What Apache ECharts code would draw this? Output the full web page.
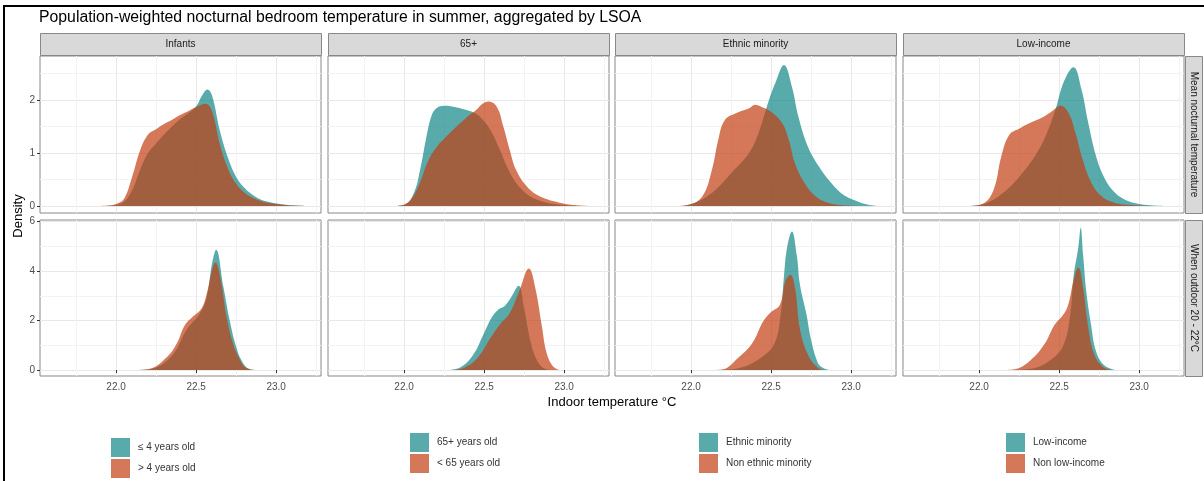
<!DOCTYPE html>
<html>
<head>
<meta charset="utf-8">
<script src="https://cdn.jsdelivr.net/npm/echarts@6/dist/echarts.min.js"></script>
<style>
  html, body { margin: 0; padding: 0; background: #fff; }
  #chart { width: 1204px; height: 481px; }
</style>
</head>
<body>
<div id="chart"></div>
<script>
// facets and labels
const facets = ["Infants", "65+", "Ethnic minority", "Low-income"];
const rowLabels = ["Mean nocturnal temperature", "When outdoor 20 - 22°C"];
const groupNames = [
  ["≤ 4 years old", "> 4 years old"],
  ["65+ years old", "< 65 years old"],
  ["Ethnic minority", "Non ethnic minority"],
  ["Low-income", "Non low-income"]
];
const xTicks = [22.0, 22.5, 23.0];
const xMinor = [21.75, 22.25, 22.75, 23.25];
const yTicksMean = [0, 1, 2];
const yMinorMean = [0.5, 1.5, 2.5];
const yTicksOutdoor = [0, 2, 4, 6];
const yMinorOutdoor = [1, 3, 5];

// density curves: [temperature, density]
const infantsMean_le4 = [[21.90,0],[22.00,0.02],[22.05,0.08],[22.10,0.3],[22.15,0.68],[22.20,1.0],[22.25,1.18],[22.30,1.35],[22.35,1.5],[22.40,1.64],[22.45,1.75],[22.50,1.88],[22.54,2.1],[22.57,2.2],[22.60,2.08],[22.65,1.4],[22.70,0.9],[22.75,0.55],[22.80,0.35],[22.85,0.22],[22.90,0.13],[22.95,0.08],[23.00,0.05],[23.05,0.03],[23.10,0.015],[23.20,0]];
const infantsMean_gt4 = [[21.85,0],[21.95,0.01],[22.00,0.04],[22.05,0.14],[22.10,0.55],[22.15,1.05],[22.20,1.35],[22.25,1.45],[22.30,1.55],[22.35,1.63],[22.40,1.72],[22.45,1.79],[22.50,1.87],[22.56,1.93],[22.60,1.78],[22.65,1.15],[22.70,0.7],[22.75,0.42],[22.80,0.26],[22.85,0.16],[22.90,0.1],[22.95,0.06],[23.00,0.04],[23.05,0.02],[23.10,0.01],[23.20,0]];
const olderMean_65plus = [[21.92,0],[22.00,0.02],[22.06,0.24],[22.10,0.68],[22.14,1.31],[22.17,1.69],[22.20,1.84],[22.25,1.89],[22.33,1.86],[22.39,1.81],[22.45,1.74],[22.50,1.6],[22.55,1.38],[22.60,1.05],[22.65,0.7],[22.70,0.44],[22.75,0.27],[22.80,0.16],[22.85,0.1],[22.90,0.06],[23.00,0.02],[23.10,0]];
const olderMean_under65 = [[21.95,0],[22.00,0.03],[22.05,0.15],[22.10,0.45],[22.15,0.85],[22.20,1.1],[22.25,1.27],[22.30,1.42],[22.35,1.56],[22.40,1.7],[22.45,1.81],[22.49,1.93],[22.53,1.97],[22.58,1.87],[22.62,1.5],[22.66,1.06],[22.70,0.68],[22.77,0.36],[22.85,0.18],[22.95,0.08],[23.03,0.03],[23.17,0]];
const ethnicMean_minority = [[21.95,0],[22.04,0.08],[22.15,0.3],[22.25,0.62],[22.36,0.99],[22.42,1.37],[22.48,1.94],[22.53,2.35],[22.58,2.66],[22.63,2.25],[22.67,1.69],[22.73,1.12],[22.80,0.74],[22.86,0.49],[22.94,0.24],[23.03,0.1],[23.10,0.03],[23.18,0]];
const ethnicMean_non = [[21.90,0],[21.98,0.02],[22.07,0.18],[22.13,0.68],[22.17,1.25],[22.21,1.62],[22.28,1.75],[22.36,1.84],[22.40,1.91],[22.44,1.87],[22.50,1.78],[22.57,1.56],[22.61,1.25],[22.65,0.8],[22.71,0.43],[22.78,0.18],[22.86,0.06],[22.98,0.01],[23.10,0]];
const incomeMean_low = [[21.95,0],[22.05,0.06],[22.15,0.25],[22.25,0.55],[22.35,0.95],[22.42,1.35],[22.48,1.85],[22.53,2.35],[22.59,2.62],[22.64,2.2],[22.68,1.6],[22.73,0.95],[22.78,0.55],[22.84,0.28],[22.90,0.14],[22.97,0.06],[23.05,0.02],[23.18,0]];
const incomeMean_non = [[21.92,0],[22.02,0.04],[22.09,0.3],[22.14,0.95],[22.19,1.35],[22.25,1.46],[22.32,1.57],[22.40,1.68],[22.46,1.8],[22.51,1.89],[22.56,1.75],[22.60,1.4],[22.65,0.85],[22.70,0.45],[22.76,0.2],[22.84,0.07],[22.95,0.02],[23.10,0]];

const infantsOut_le4 = [[22.15,0],[22.25,0.1],[22.36,0.67],[22.44,1.62],[22.525,2.3],[22.567,2.97],[22.60,4.32],[22.625,4.86],[22.67,3.37],[22.71,2.0],[22.75,0.94],[22.79,0.32],[22.83,0.05],[22.88,0]];
const infantsOut_gt4 = [[22.12,0],[22.21,0.05],[22.32,0.54],[22.38,1.08],[22.43,1.82],[22.48,2.16],[22.535,2.5],[22.567,3.1],[22.60,4.05],[22.62,4.34],[22.65,3.78],[22.69,2.16],[22.73,1.08],[22.775,0.4],[22.81,0.1],[22.86,0]];
const olderOut_65plus = [[22.28,0],[22.35,0.1],[22.43,0.6],[22.50,1.5],[22.55,2.15],[22.59,2.45],[22.63,2.6],[22.67,2.95],[22.715,3.4],[22.75,2.5],[22.79,1.15],[22.83,0.4],[22.88,0.05],[22.93,0]];
const olderOut_under65 = [[22.29,0],[22.37,0.08],[22.46,0.5],[22.54,1.3],[22.60,1.85],[22.66,2.3],[22.72,3.2],[22.78,4.1],[22.82,3.3],[22.86,1.8],[22.89,0.7],[22.93,0.15],[22.97,0]];
const ethnicOut_minority = [[22.18,0],[22.30,0.08],[22.43,0.47],[22.52,1.06],[22.56,2.27],[22.58,3.77],[22.60,4.96],[22.63,5.6],[22.66,4.66],[22.68,3.46],[22.72,2.27],[22.75,1.21],[22.79,0.32],[22.82,0.1],[22.86,0]];
const ethnicOut_non = [[22.14,0],[22.20,0.03],[22.29,0.47],[22.38,1.06],[22.45,1.96],[22.50,2.34],[22.555,2.64],[22.59,3.61],[22.62,3.85],[22.65,3.3],[22.68,1.66],[22.73,0.62],[22.79,0.1],[22.83,0]];
const incomeOut_low = [[22.20,0],[22.32,0.05],[22.46,0.47],[22.53,1.06],[22.57,2.27],[22.59,3.77],[22.62,4.96],[22.635,5.75],[22.65,4.66],[22.67,3.16],[22.70,1.81],[22.73,0.77],[22.78,0.2],[22.85,0]];
const incomeOut_non = [[22.15,0],[22.22,0.03],[22.32,0.39],[22.41,1.06],[22.47,1.81],[22.53,2.27],[22.56,2.71],[22.59,3.61],[22.62,4.14],[22.65,3.32],[22.68,1.81],[22.72,0.62],[22.78,0.1],[22.83,0]];

const panelData = [
  [[infantsMean_le4, infantsMean_gt4], [olderMean_65plus, olderMean_under65], [ethnicMean_minority, ethnicMean_non], [incomeMean_low, incomeMean_non]],
  [[infantsOut_le4, infantsOut_gt4], [olderOut_65plus, olderOut_under65], [ethnicOut_minority, ethnicOut_non], [incomeOut_low, incomeOut_non]]
];

const teal = "#138887";
const orange = "#c23e13";
const fillOpacity = 0.7;

const colLeft = [40, 328, 615, 903];
const panelW = 281;
const rowTop = [56, 220];
const rowH = [157, 156];
const yRange = [[-0.13, 2.83], [-0.24, 6.06]];
const yTicks = [yTicksMean, yTicksOutdoor];
const yMinor = [yMinorMean, yMinorOutdoor];

const grids = [], xAxes = [], yAxes = [], series = [], graphics = [];

for (let r = 0; r < 2; r++) {
  for (let c = 0; c < 4; c++) {
    const i = r * 4 + c;
    grids.push({
      left: colLeft[c], top: rowTop[r], width: panelW, height: rowH[r],
      show: true, backgroundColor: "#fff", borderColor: "#888", borderWidth: 1
    });
    // major x
    xAxes.push({
      type: "value", gridIndex: i, min: 21.525, max: 23.28,
      axisLine: { show: false },
      axisTick: { show: r === 1, customValues: xTicks, length: 3, lineStyle: { color: "#333" } },
      axisLabel: { show: r === 1, customValues: xTicks, color: "#4d4d4d", fontSize: 10, margin: 6,
        fontFamily: "Liberation Sans", formatter: v => v.toFixed(1) },
      splitLine: { show: true, lineStyle: { color: "#e8e8e8", width: 1 } }
    });
    // minor x
    xAxes.push({
      type: "value", gridIndex: i, min: 21.525, max: 23.28,
      axisLine: { show: false },
      axisTick: { show: false, customValues: xMinor },
      axisLabel: { show: false },
      splitLine: { show: true, lineStyle: { color: "#f3f3f3", width: 1 } }
    });
    yAxes.push({
      type: "value", gridIndex: i, min: yRange[r][0], max: yRange[r][1],
      axisLine: { show: false },
      axisTick: { show: c === 0, customValues: yTicks[r], length: 3, lineStyle: { color: "#333" } },
      axisLabel: { show: c === 0, customValues: yTicks[r], color: "#4d4d4d", fontSize: 10, margin: 5,
        fontFamily: "Liberation Sans" },
      splitLine: { show: true, lineStyle: { color: "#e8e8e8", width: 1 } }
    });
    yAxes.push({
      type: "value", gridIndex: i, min: yRange[r][0], max: yRange[r][1],
      axisLine: { show: false },
      axisTick: { show: false, customValues: yMinor[r] },
      axisLabel: { show: false },
      splitLine: { show: true, lineStyle: { color: "#f3f3f3", width: 1 } }
    });
    const pair = panelData[r][c];
    [teal, orange].forEach((col, k) => {
      series.push({
        type: "line", name: groupNames[c][k],
        xAxisIndex: 2 * i, yAxisIndex: 2 * i,
        data: pair[k],
        showSymbol: false, symbol: "none",
        smooth: 0.4,
        silent: true,
        itemStyle: { color: col },
        lineStyle: { width: 0 },
        areaStyle: { color: col, opacity: fillOpacity }
      });
    });
  }
}

// facet strips
for (let c = 0; c < 4; c++) {
  graphics.push({
    type: "rect", shape: { x: colLeft[c] + 0.5, y: 33.5, width: panelW, height: 22 },
    style: { fill: "#d9d9d9", stroke: "#888", lineWidth: 1 }
  });
  graphics.push({
    type: "text", x: colLeft[c] + panelW / 2, y: 44.5,
    style: { text: facets[c], fill: "#1a1a1a", fontSize: 10, fontFamily: "Liberation Sans",
      textAlign: "center", textVerticalAlign: "middle" }
  });
}
for (let r = 0; r < 2; r++) {
  graphics.push({
    type: "rect", shape: { x: 1185.5, y: rowTop[r] + 0.5, width: 17, height: rowH[r] },
    style: { fill: "#d9d9d9", stroke: "#888", lineWidth: 1 }
  });
  graphics.push({
    type: "text", x: 1194, y: rowTop[r] + rowH[r] / 2, rotation: -Math.PI / 2,
    style: { text: rowLabels[r], fill: "#1a1a1a", fontSize: 10, fontFamily: "Liberation Sans",
      textAlign: "center", textVerticalAlign: "middle" }
  });
}
// axis titles
graphics.push({
  type: "text", x: 18, y: 216, rotation: Math.PI / 2,
  style: { text: "Density", fill: "#000", fontSize: 13, fontFamily: "Liberation Sans",
    textAlign: "center", textVerticalAlign: "middle" }
});
graphics.push({
  type: "text", x: 612, y: 402,
  style: { text: "Indoor temperature °C", fill: "#000", fontSize: 13, fontFamily: "Liberation Sans",
    textAlign: "center", textVerticalAlign: "middle" }
});
// frame edges of the screenshot
graphics.push({ type: "line", shape: { x1: 4, y1: 6, x2: 4, y2: 481 }, style: { stroke: "#000", lineWidth: 2 } });
graphics.push({ type: "line", shape: { x1: 3, y1: 6, x2: 1204, y2: 6 }, style: { stroke: "#000", lineWidth: 2 } });

const legendPos = [[111, 438], [410, 433], [699, 433], [1006, 433]];
const legends = groupNames.map((names, g) => ({
  orient: "vertical", left: legendPos[g][0], top: legendPos[g][1],
  padding: 0, itemGap: 2, itemWidth: 19, itemHeight: 19, icon: "rect",
  selectedMode: false,
  textStyle: { fontSize: 10, color: "#333", fontFamily: "Liberation Sans", padding: [0, 0, 0, 3] },
  data: names.map((n, k) => ({ name: n, itemStyle: { color: k === 0 ? teal : orange, opacity: fillOpacity, borderWidth: 0 } }))
}));

const chart = echarts.init(document.getElementById("chart"));
chart.setOption({
  animation: false,
  backgroundColor: "#fff",
  title: {
    text: "Population-weighted nocturnal bedroom temperature in summer, aggregated by LSOA",
    left: 39, top: 10, padding: 0,
    textStyle: { fontSize: 15.8, fontWeight: "normal", color: "#000", fontFamily: "Liberation Sans" }
  },
  legend: legends,
  grid: grids,
  xAxis: xAxes,
  yAxis: yAxes,
  series: series,
  graphic: graphics
});
</script>
</body>
</html>
